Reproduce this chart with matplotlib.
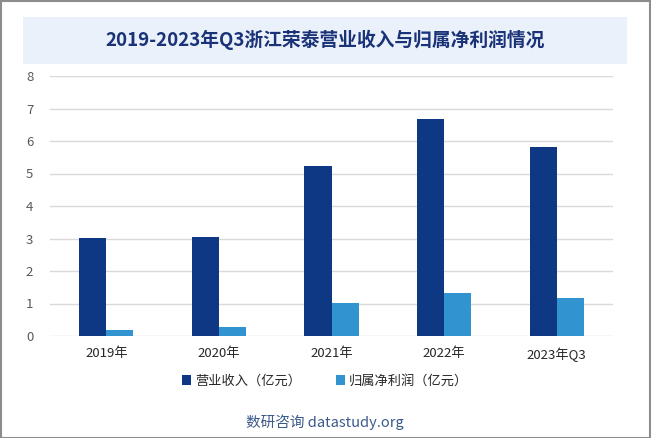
import matplotlib
matplotlib.use("Agg")
import matplotlib.pyplot as plt
import numpy as np
from matplotlib.patches import Rectangle

plt.rcParams['font.family'] = ['Noto Sans CJK SC', 'DejaVu Sans']

categories = ["2019年", "2020年", "2021年", "2022年", "2023年Q3"]
revenue = [3.02, 3.05, 5.22, 6.68, 5.82]
net_profit = [0.18, 0.28, 1.02, 1.32, 1.17]

DARK = "#0f3884"
LIGHT = "#3194d0"

fig = plt.figure(figsize=(6.51, 4.38), dpi=100)
fig.patch.set_facecolor("white")

# outer border
fig.add_artist(Rectangle((0.001, 0.001), 0.997, 0.996, transform=fig.transFigure,
                         fill=False, edgecolor="#8c8c8c", linewidth=1.5))

# title band
fig.add_artist(Rectangle((23 / 651, 1 - 64 / 438), 604 / 651, 47 / 438,
                         transform=fig.transFigure, facecolor="#eaf1fb",
                         edgecolor="none"))
fig.text(325 / 651, 1 - 40 / 438, "2019-2023年Q3浙江荣泰营业收入与归属净利润情况",
         ha="center", va="center", fontsize=13.5, fontweight="bold", color="#1a3277")

ax = fig.add_axes([50 / 651, 1 - 336 / 438, 563 / 651, 260 / 438])
x = np.arange(len(categories))
w = 0.24
ax.bar(x - w / 2, revenue, w, color=DARK, label="营业收入（亿元）", zorder=3)
ax.bar(x + w / 2, net_profit, w, color=LIGHT, label="归属净利润（亿元）", zorder=3)

ax.set_xlim(-0.5, len(categories) - 0.5)
ax.set_ylim(0, 8)
ax.set_yticks(range(0, 9))
ax.set_xticks(x)
ax.set_xticklabels(categories)
ax.grid(axis="y", color="#d9d9d9", linewidth=1, zorder=0)
for s in ax.spines.values():
    s.set_visible(False)
ax.tick_params(axis="y", length=0, labelsize=9.5, colors="#595959", pad=12)
ax.tick_params(axis="x", length=0, labelsize=9.5, colors="#262626", pad=8)

fig.legend(loc="center", bbox_to_anchor=(325 / 651, 1 - 381 / 438), ncol=2,
           frameon=False, fontsize=9.5, handlelength=0.7, handleheight=0.7,
           handletextpad=0.3, columnspacing=2.6, labelcolor="#262626")

fig.text(325 / 651, 1 - 422 / 438, "数研咨询 datastudy.org", ha="center", va="center",
         fontsize=10.5, color="#3b5a8a")

fig.savefig("out.png", dpi=100, facecolor="white")
